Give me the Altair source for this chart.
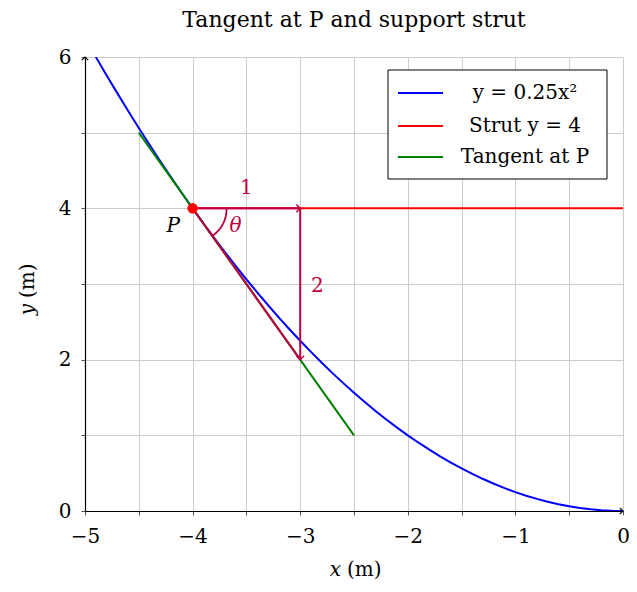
import altair as alt
import pandas as pd

# ---- data ----
curve_x = [-4.9, -4.8, -4.7, -4.6, -4.5, -4.4, -4.3, -4.2, -4.1, -4.0,
           -3.9, -3.8, -3.7, -3.6, -3.5, -3.4, -3.3, -3.2, -3.1, -3.0,
           -2.9, -2.8, -2.7, -2.6, -2.5, -2.4, -2.3, -2.2, -2.1, -2.0,
           -1.9, -1.8, -1.7, -1.6, -1.5, -1.4, -1.3, -1.2, -1.1, -1.0,
           -0.9, -0.8, -0.7, -0.6, -0.5, -0.4, -0.3, -0.2, -0.1, 0.0]
curve_y = [6.0025, 5.76, 5.5225, 5.29, 5.0625, 4.84, 4.6225, 4.41, 4.2025, 4.0,
           3.8025, 3.61, 3.4225, 3.24, 3.0625, 2.89, 2.7225, 2.56, 2.4025, 2.25,
           2.1025, 1.96, 1.8225, 1.69, 1.5625, 1.44, 1.3225, 1.21, 1.1025, 1.0,
           0.9025, 0.81, 0.7225, 0.64, 0.5625, 0.49, 0.4225, 0.36, 0.3025, 0.25,
           0.2025, 0.16, 0.1225, 0.09, 0.0625, 0.04, 0.0225, 0.01, 0.0025, 0.0]
tangent_x = [-4.5, -2.5]
tangent_y = [5.0, 1.0]
strut_x = [-4.0, 0.0]
strut_y = [4.0, 4.0]
p_x = [-4.0]
p_y = [4.0]
run_x = [-4.0, -3.0]
run_y = [4.0, 4.0]
rise_x = [-3.0, -3.0]
rise_y = [4.0, 2.0]
hyp_x = [-4.0, -3.0]
hyp_y = [4.0, 2.0]
x_ticks = [-5, -4.5, -4, -3.5, -3, -2.5, -2, -1.5, -1, -0.5, 0]
y_ticks = [0, 1, 2, 3, 4, 5, 6]
legend_labels = ["y = 0.25x²", "Strut y = 4", "Tangent at P"]
title_text = "Tangent at P and support strut"

FONT = "DejaVu Serif"
BLUE = "#0000ff"
RED = "#ff0000"
GREEN = "#008000"
PURPLE = "#bf0040"

W, H = 538, 454

xs = alt.Scale(domain=[-5, 0], nice=False, zero=False)
ys = alt.Scale(domain=[0, 6], nice=False, zero=False)
xaxis = alt.Axis(values=x_ticks, grid=True, gridColor="#cccccc", domainColor="black",
                 tickColor="#555555", tickSize=4, labelPadding=11, labelFontSize=20,
                 labelFont=FONT, labelColor="black", title=None, labelFlush=False,
                 labelOverlap=False,
                 labelExpr="datum.value % 1 == 0 ? format(datum.value, 'd') : ''")
yaxis = alt.Axis(values=y_ticks, grid=True, gridColor="#cccccc", domainColor="black",
                 tickColor="#555555", tickSize=4, labelPadding=10, labelFontSize=20,
                 labelFont=FONT, labelColor="black", title=None, labelFlush=False,
                 labelOverlap=False,
                 labelExpr="datum.value % 2 == 0 ? format(datum.value, 'd') : ''")
X = alt.X("x:Q", scale=xs, axis=xaxis)
Y = alt.Y("y:Q", scale=ys, axis=yaxis)


def df(xv, yv, **extra):
    d = pd.DataFrame({"x": xv, "y": yv})
    for k, v in extra.items():
        d[k] = v
    return d


def txt(s):
    return pd.DataFrame({"t": [s]})


curve = alt.Chart(df(curve_x, curve_y)).mark_line(color=BLUE, strokeWidth=2, clip=True).encode(x=X, y=Y, order="x:Q")
strut = alt.Chart(df(strut_x, strut_y)).mark_line(color=RED, strokeWidth=2).encode(x=X, y=Y)
tangent = alt.Chart(df(tangent_x, tangent_y)).mark_line(color=GREEN, strokeWidth=2).encode(x=X, y=Y)
run = alt.Chart(df(run_x, run_y)).mark_line(color=PURPLE, strokeWidth=2).encode(x=X, y=Y)
rise = alt.Chart(df(rise_x, rise_y)).mark_line(color=PURPLE, strokeWidth=2).encode(x=X, y=Y)
hyp = alt.Chart(df(hyp_x, hyp_y)).mark_line(color=PURPLE, strokeWidth=2).encode(x=X, y=Y)

CHEVRON = "M -1 -1 L 0 0 L -1 1"
head_run = alt.Chart(df([run_x[1]], [run_y[1]])).mark_point(
    shape=CHEVRON, size=60, filled=False, stroke=PURPLE, strokeWidth=1.5, opacity=1
).encode(x=X, y=Y)
head_rise = alt.Chart(df([rise_x[1]], [rise_y[1]])).mark_point(
    shape=CHEVRON, size=60, filled=False, stroke=PURPLE, strokeWidth=1.5, opacity=1, angle=90
).encode(x=X, y=Y)

arc = alt.Chart(df(p_x, p_y)).mark_arc(
    radius=34, radius2=34, theta=1.5708, theta2=2.5133, fill=None,
    stroke=PURPLE, strokeWidth=1.8
).encode(x=X, y=Y)

point_p = alt.Chart(df(p_x, p_y)).mark_point(
    shape="circle", size=110, filled=True, color=RED, opacity=1
).encode(x=X, y=Y)

lbl_1 = alt.Chart(df([-3.5], [4.27], t=["1"])).mark_text(
    font=FONT, fontSize=20, color=PURPLE).encode(x=X, y=Y, text="t:N")
lbl_2 = alt.Chart(df([-2.84], [2.98], t=["2"])).mark_text(
    font=FONT, fontSize=20, color=PURPLE).encode(x=X, y=Y, text="t:N")
lbl_th = alt.Chart(df([-3.6], [3.77], t=["θ"])).mark_text(
    font=FONT, fontSize=20, fontStyle="italic", color=PURPLE).encode(x=X, y=Y, text="t:N")
lbl_p = alt.Chart(df([-4.18], [3.76], t=["P"])).mark_text(
    font=FONT, fontSize=20, fontStyle="italic", color="black").encode(x=X, y=Y, text="t:N")

# axis end arrows
ax_arrow_x = alt.Chart(df([0.0], [0.0])).mark_point(
    shape=CHEVRON, size=40, filled=False, stroke="black", strokeWidth=1.2, opacity=1
).encode(x=X, y=Y)
ax_arrow_y = alt.Chart(df([-5.0], [6.0])).mark_point(
    shape=CHEVRON, size=40, filled=False, stroke="black", strokeWidth=1.2, opacity=1, angle=270
).encode(x=X, y=Y)

# title and axis titles
title = alt.Chart(txt(title_text)).mark_text(
    font=FONT, fontSize=22, color="black", baseline="middle"
).encode(x=alt.value(W / 2), y=alt.value(-37), text="t:N")
XT_Y = 513
xt_var = alt.Chart(txt("x")).mark_text(
    font=FONT, fontSize=20, fontStyle="italic", color="black", baseline="middle", align="right"
).encode(x=alt.value(W / 2 - 13), y=alt.value(XT_Y), text="t:N")
xt_unit = alt.Chart(txt("(m)")).mark_text(
    font=FONT, fontSize=20, color="black", baseline="middle", align="left"
).encode(x=alt.value(W / 2 - 7), y=alt.value(XT_Y), text="t:N")
yt_var = alt.Chart(txt("y")).mark_text(
    font=FONT, fontSize=20, fontStyle="italic", color="black", baseline="middle",
    align="right", angle=270
).encode(x=alt.value(-57), y=alt.value(H / 2 + 20), text="t:N")
yt_unit = alt.Chart(txt("(m)")).mark_text(
    font=FONT, fontSize=20, color="black", baseline="middle", align="left", angle=270
).encode(x=alt.value(-57), y=alt.value(H / 2 + 14), text="t:N")

# legend
LX2 = W - 16
LX1 = LX2 - 219
leg_box = alt.Chart(pd.DataFrame({"a": [0]})).mark_rect(
    fill="white", stroke="black", strokeWidth=1
).encode(x=alt.value(LX1), x2=alt.value(LX2), y=alt.value(13), y2=alt.value(122))
legend_layers = [leg_box]
for lab, col, yy in zip(legend_labels, [BLUE, RED, GREEN], [36, 69, 100]):
    legend_layers.append(
        alt.Chart(pd.DataFrame({"a": [0]})).mark_rule(color=col, strokeWidth=2).encode(
            x=alt.value(LX1 + 10), x2=alt.value(LX1 + 55), y=alt.value(yy))
    )
    legend_layers.append(
        alt.Chart(txt(lab)).mark_text(
            font=FONT, fontSize=20, color="black", baseline="middle", align="center"
        ).encode(x=alt.value(LX1 + 137), y=alt.value(yy), text="t:N")
    )

chart = alt.layer(
    curve, tangent, strut, hyp, run, rise, head_run, head_rise, arc, point_p,
    lbl_1, lbl_2, lbl_th, lbl_p, ax_arrow_x, ax_arrow_y, title,
    xt_var, xt_unit, yt_var, yt_unit,
    *legend_layers
).properties(
    width=W, height=H,
    autosize=alt.AutoSizeParams(type="none"),
    padding={"left": 77, "top": 49, "right": 6, "bottom": 73},
).configure_view(stroke=None).configure_axis(domainWidth=1.2)

chart.save("out.html", embed_options={"renderer": "svg", "actions": False})
